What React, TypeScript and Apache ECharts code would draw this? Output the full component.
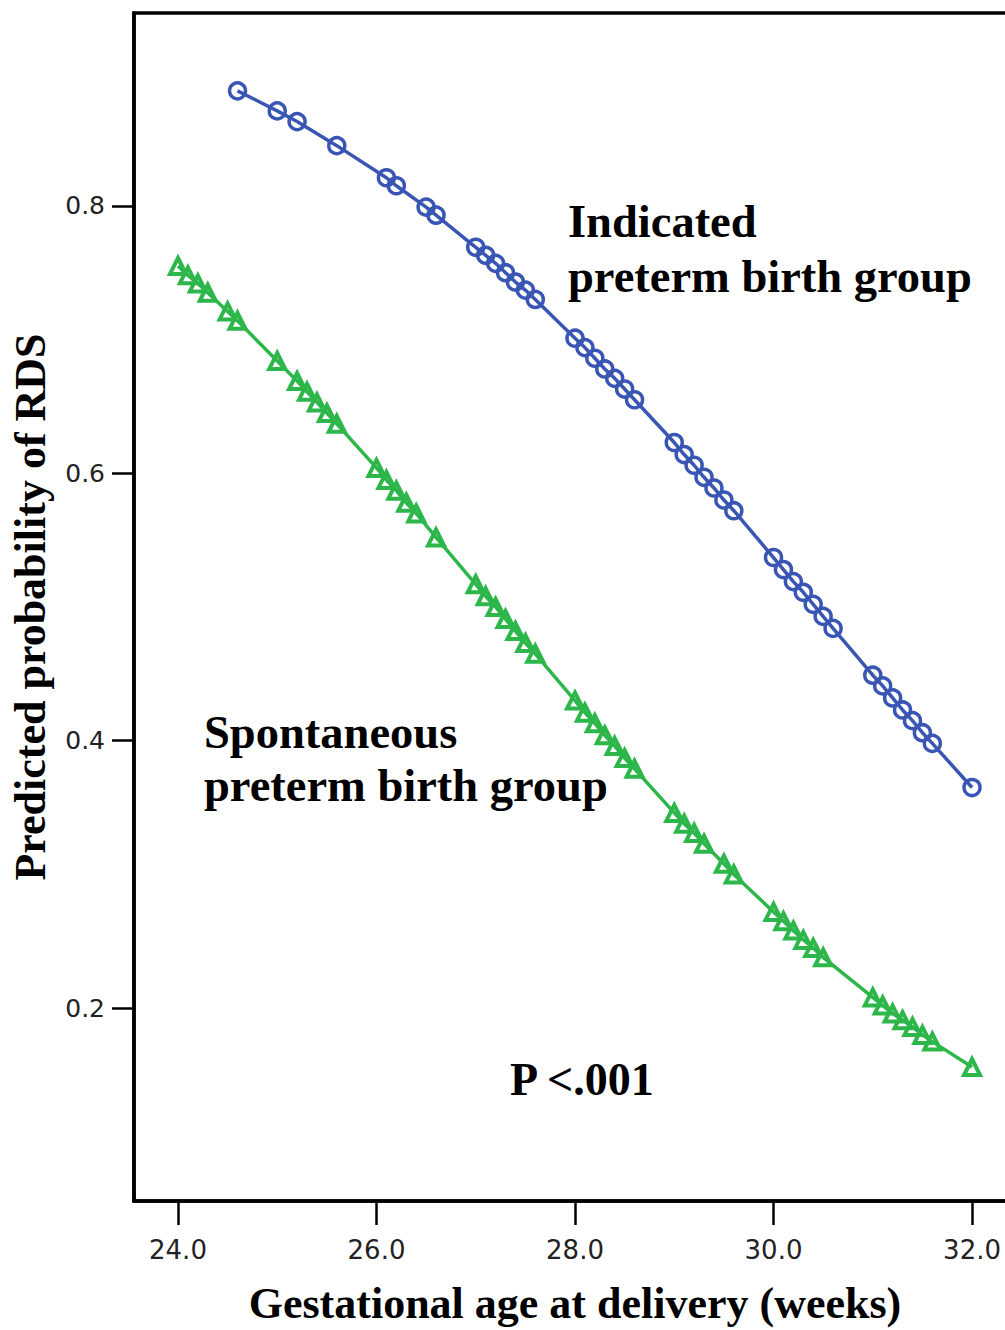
import React, { useEffect, useRef } from "react";
import * as echarts from "echarts";

// Indicated preterm birth group (blue circles)
const indicatedWeeks = [
  24.6, 25.0, 25.2, 25.6, 26.1, 26.2, 26.5, 26.6,
  27.0, 27.1, 27.2, 27.3, 27.4, 27.5, 27.6,
  28.0, 28.1, 28.2, 28.3, 28.4, 28.5, 28.6,
  29.0, 29.1, 29.2, 29.3, 29.4, 29.5, 29.6,
  30.0, 30.1, 30.2, 30.3, 30.4, 30.5, 30.6,
  31.0, 31.1, 31.2, 31.3, 31.4, 31.5, 31.6,
  32.0,
];
const indicatedProb = [
  0.886, 0.871, 0.863, 0.845, 0.821, 0.815, 0.799, 0.793,
  0.769, 0.763, 0.757, 0.750, 0.743, 0.737, 0.730,
  0.701, 0.694, 0.686, 0.678, 0.671, 0.663, 0.655,
  0.623, 0.614, 0.606, 0.597, 0.589, 0.580, 0.572,
  0.537, 0.528, 0.519, 0.511, 0.502, 0.493, 0.484,
  0.449, 0.441, 0.432, 0.423, 0.415, 0.406, 0.398,
  0.365,
];

// Spontaneous preterm birth group (green triangles)
const spontaneousWeeks = [
  24.0, 24.1, 24.2, 24.3, 24.5, 24.6,
  25.0, 25.2, 25.3, 25.4, 25.5, 25.6,
  26.0, 26.1, 26.2, 26.3, 26.4, 26.6,
  27.0, 27.1, 27.2, 27.3, 27.4, 27.5, 27.6,
  28.0, 28.1, 28.2, 28.3, 28.4, 28.5, 28.6,
  29.0, 29.1, 29.2, 29.3, 29.5, 29.6,
  30.0, 30.1, 30.2, 30.3, 30.4, 30.5,
  31.0, 31.1, 31.2, 31.3, 31.4, 31.5, 31.6,
  32.0,
];
const spontaneousProb = [
  0.755, 0.748, 0.742, 0.735, 0.721, 0.714,
  0.684, 0.669, 0.661, 0.653, 0.645, 0.637,
  0.604, 0.595, 0.587, 0.578, 0.570, 0.552,
  0.517, 0.508, 0.500, 0.491, 0.482, 0.473, 0.465,
  0.430, 0.421, 0.413, 0.404, 0.396, 0.387, 0.379,
  0.346, 0.338, 0.331, 0.323, 0.308, 0.300,
  0.272, 0.265, 0.258, 0.251, 0.245, 0.238,
  0.208, 0.202, 0.196, 0.191, 0.186, 0.180, 0.175,
  0.156,
];

const xTicks = [24, 26, 28, 30, 32];
const yTicks = [0.2, 0.4, 0.6, 0.8];

const BLUE = "#3a56b4";
const GREEN = "#2db64a";
const SERIF = "'Liberation Serif', 'Times New Roman', serif";
const SANS = "'DejaVu Sans', sans-serif";

function zip(xs: number[], ys: number[]) {
  return xs.map((x, i) => [x, ys[i]]);
}

export default function App() {
  const ref = useRef<HTMLDivElement>(null);
  useEffect(() => {
    if (!ref.current) return;
    const chart = echarts.init(ref.current, null, { renderer: "svg" });
    chart.setOption({
      animation: false,
      backgroundColor: "#ffffff",
      grid: {
        left: 134,
        right: 4,
        top: 13,
        bottom: 122,
        show: true,
        borderColor: "#000",
        borderWidth: 3.5,
        backgroundColor: "transparent",
      },
      xAxis: {
        type: "value",
        min: 23.557,
        max: 32.443,
        name: "Gestational age at delivery (weeks)",
        nameLocation: "middle",
        nameGap: 80,
        nameTextStyle: {
          fontFamily: SERIF,
          fontWeight: "bold",
          fontSize: 44,
          color: "#000",
        },
        splitLine: { show: false },
        axisLine: { show: true, onZero: false, lineStyle: { color: "#000", width: 3.5 } },
        axisTick: {
          show: true,
          inside: false,
          length: 24,
          customValues: xTicks,
          lineStyle: { color: "#000", width: 2.5 },
        },
        axisLabel: {
          customValues: xTicks,
          formatter: (v: number) => v.toFixed(1),
          margin: 36,
          fontFamily: SANS,
          fontSize: 26,
          color: "#222",
        },
      },
      yAxis: {
        type: "value",
        min: 0.0558,
        max: 0.9442,
        name: "Predicted probability of RDS",
        nameLocation: "middle",
        nameGap: 82,
        nameRotate: 90,
        nameTextStyle: {
          fontFamily: SERIF,
          fontWeight: "bold",
          fontSize: 44,
          color: "#000",
        },
        splitLine: { show: false },
        axisLine: { show: true, onZero: false, lineStyle: { color: "#000", width: 3.5 } },
        axisTick: {
          show: true,
          inside: false,
          length: 22,
          customValues: yTicks,
          lineStyle: { color: "#000", width: 2.5 },
        },
        axisLabel: {
          customValues: yTicks,
          formatter: (v: number) => v.toFixed(1),
          margin: 29,
          fontFamily: SANS,
          fontSize: 25,
          color: "#222",
        },
      },
      series: [
        {
          name: "Indicated preterm birth group",
          type: "line",
          data: zip(indicatedWeeks, indicatedProb),
          symbol: "circle",
          symbolSize: 16,
          showAllSymbol: true,
          lineStyle: { color: BLUE, width: 3.5 },
          itemStyle: { color: "rgba(255,255,255,0)", borderColor: BLUE, borderWidth: 3.5 },
          z: 3,
        },
        {
          name: "Spontaneous preterm birth group",
          type: "line",
          data: zip(spontaneousWeeks, spontaneousProb),
          symbol: "triangle",
          symbolSize: 16,
          showAllSymbol: true,
          lineStyle: { color: GREEN, width: 3.5 },
          itemStyle: { color: "rgba(255,255,255,0)", borderColor: GREEN, borderWidth: 4 },
          z: 3,
        },
      ],
      graphic: [
        {
          type: "text",
          left: 568,
          top: 194,
          style: {
            text: "Indicated\npreterm birth group",
            font: `bold 46.5px ${SERIF}`,
            lineHeight: 55,
            fill: "#000",
          },
        },
        {
          type: "text",
          left: 204,
          top: 706,
          style: {
            text: "Spontaneous\npreterm birth group",
            font: `bold 46.5px ${SERIF}`,
            lineHeight: 53,
            fill: "#000",
          },
        },
        {
          type: "text",
          left: 510,
          top: 1056,
          style: {
            text: "P <.001",
            font: `bold 46px ${SERIF}`,
            fill: "#000",
          },
        },
      ],
    });
    return () => chart.dispose();
  }, []);
  return (
    <div
      style={{
        position: "absolute",
        left: 0,
        top: 0,
        width: 1005,
        height: 1330,
        overflow: "hidden",
        background: "#fff",
      }}
    >
      <div ref={ref} style={{ width: 1020, height: 1330 }} />
    </div>
  );
}
